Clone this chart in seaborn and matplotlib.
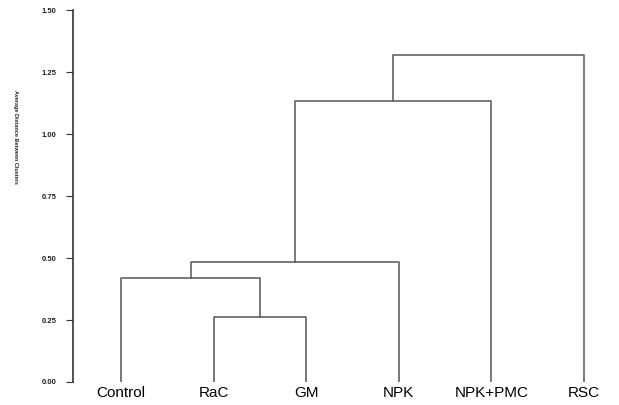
import matplotlib
matplotlib.use('agg')
from matplotlib import pyplot as plt
import seaborn as sns

# leaves in plotting order and merge steps (left, right, height)
leaves = ['Control', 'RaC', 'GM', 'NPK', 'NPK+PMC', 'RSC']
merge_left = ['RaC', 'Control', 'c2', 'c3', 'c4']
merge_right = ['GM', 'c1', 'NPK', 'NPK+PMC', 'RSC']
merge_height = [0.263, 0.418, 0.485, 1.134, 1.321]
yticks = [0.00, 0.25, 0.50, 0.75, 1.00, 1.25, 1.50]


def dendro_segments():
    pos = {name: (i, 0.0) for i, name in enumerate(leaves)}
    segs = []
    for k, (a, b, h) in enumerate(zip(merge_left, merge_right, merge_height)):
        xa, ya = pos[a]
        xb, yb = pos[b]
        segs.append(([xa, xa, xb, xb], [ya, h, h, yb]))
        pos['c%d' % (k + 1)] = ((xa + xb) / 2, h)
    return segs


sns.set_style('white')
plt.rcParams['font.family'] = ['Liberation Sans', 'DejaVu Sans']

fig = plt.figure(figsize=(6.19, 4.05), dpi=100)
ax = fig.add_axes([0.118, 0.0568, 0.9, 0.918])

for xs, ys in dendro_segments():
    sns.lineplot(x=xs, y=ys, sort=False, estimator=None, color='#555555', lw=1.1, ax=ax)

ax.set_xlim(-0.52, 5.5)
ax.set_ylim(0, 1.5)
ax.set_yticks(yticks)
ax.set_yticklabels(['%.2f' % v for v in yticks], fontsize=5.5, fontweight='bold', color='#222222')
ax.set_xticks(range(len(leaves)))
ax.set_xticklabels(leaves, fontsize=11, color='black')
ax.tick_params(axis='x', length=0, pad=3)
ax.tick_params(axis='y', length=5, width=0.8, color='#333333', direction='out', left=True, pad=7)
ax.set_ylabel('Average Distance Between Clusters', rotation=-90, fontsize=4,
              fontweight='bold', va='center', ha='center')
ax.yaxis.set_label_coords(-0.104, 0.66)

sns.despine(ax=ax, top=True, right=True, bottom=True)
ax.spines['left'].set_color('#333333')
ax.spines['left'].set_linewidth(1.2)

fig.savefig('out.png', dpi=100)
plt.close(fig)
